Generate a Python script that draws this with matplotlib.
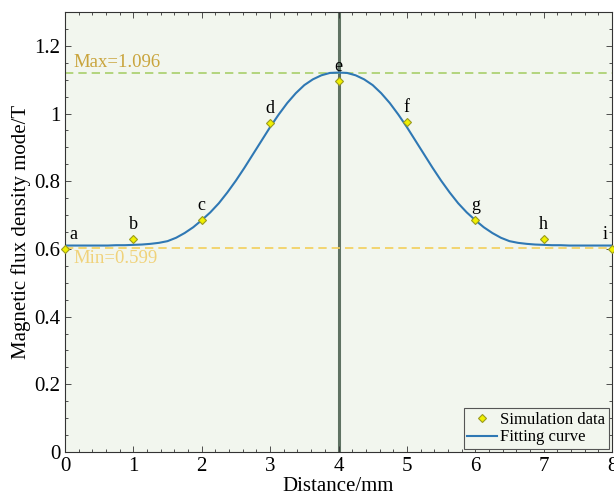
import matplotlib.pyplot as plt
from matplotlib.ticker import MultipleLocator

plt.rcParams['font.family'] = ['Liberation Serif', 'DejaVu Serif']

# simulation points
dist = [0, 1, 2, 3, 4, 5, 6, 7, 8]
flux = [0.599, 0.630, 0.686, 0.971, 1.096, 0.974, 0.686, 0.628, 0.599]
point_labels = ['a', 'b', 'c', 'd', 'e', 'f', 'g', 'h', 'i']

# fitting curve (step 0.125 mm)
fit_x = [i * 0.125 for i in range(65)]
fit_y = [0.610, 0.610, 0.610, 0.610, 0.610, 0.610, 0.611, 0.611,
         0.612, 0.613, 0.615, 0.618, 0.623, 0.633, 0.647, 0.664,
         0.685, 0.708, 0.735, 0.767, 0.802, 0.840, 0.880, 0.920,
         0.960, 0.997, 1.031, 1.060, 1.084, 1.101, 1.113, 1.120,
         1.121,
         1.120, 1.113, 1.101, 1.084, 1.060, 1.031, 0.997, 0.960,
         0.920, 0.880, 0.840, 0.802, 0.767, 0.735, 0.708, 0.685,
         0.664, 0.647, 0.633, 0.623, 0.618, 0.615, 0.613, 0.612,
         0.611, 0.611, 0.610, 0.610, 0.610, 0.610, 0.610, 0.610]

max_line = 1.121
min_line = 0.602

fig = plt.figure(figsize=(6.14, 5.04), dpi=100)
ax = fig.add_axes([65 / 614, 52 / 504, 547 / 614, 440 / 504])
ax.set_facecolor('#f2f6ee')

ax.axvline(4, color='#5f7262', lw=2.2, zorder=1)
ax.axhline(max_line, color='#a8cf6a', ls='--', lw=1.2, dashes=(5, 3), zorder=1)
ax.axhline(min_line, color='#f2cf5a', ls='--', lw=1.2, dashes=(5, 3), zorder=1)

ax.plot(dist, flux, ls='none', marker='D', ms=4.5, mfc='#f0f000', mec='#9a9a20',
        mew=0.8, label='Simulation data', zorder=3, clip_on=False)
ax.plot(fit_x, fit_y, color='#2f78b4', lw=1.5, label='Fitting curve', zorder=2)

for x, y, t in zip(dist, flux, point_labels):
    if t == 'a':
        ax.text(x + 0.06, y + 0.018, t, fontsize=13, ha='left', va='bottom')
    elif t == 'i':
        ax.text(x - 0.06, y + 0.018, t, fontsize=13, ha='right', va='bottom')
    else:
        ax.text(x, y + 0.018, t, fontsize=13, ha='center', va='bottom')

ax.text(0.13, max_line + 0.005, 'Max=1.096', color='#c9a43c', fontsize=13.5,
        va='bottom')
ax.text(0.13, min_line - 0.006, 'Min=0.599', color='#f0d27a', fontsize=13.5,
        va='top')

ax.set_xlim(0, 8)
ax.set_ylim(0, 1.3)
ax.xaxis.set_major_locator(MultipleLocator(1))
ax.xaxis.set_minor_locator(MultipleLocator(0.2))
ax.yaxis.set_major_locator(MultipleLocator(0.2))
ax.yaxis.set_minor_locator(MultipleLocator(0.05))
ax.set_yticks([0, 0.2, 0.4, 0.6, 0.8, 1.0, 1.2])
ax.set_yticklabels(['0', '0.2', '0.4', '0.6', '0.8', '1', '1.2'])
ax.tick_params(which='both', direction='in', top=True, right=True,
               labelsize=15, colors='#333333', labelcolor='black')
ax.tick_params(which='major', length=4, width=0.6)
ax.tick_params(which='minor', length=2, width=0.6)
for s in ax.spines.values():
    s.set_color('#333333')
    s.set_linewidth(0.8)

ax.set_xlabel('Distance/mm', fontsize=15, labelpad=1)
ax.set_ylabel('Magnetic flux density mode/T', fontsize=15, labelpad=2)

leg = ax.legend(loc='lower right', fontsize=12, fancybox=False, framealpha=1,
                edgecolor='#555555', handlelength=1.8, handletextpad=0.2,
                borderpad=0.2, borderaxespad=0.2, labelspacing=0.1)
leg.get_frame().set_facecolor('#f2f6ee')
leg.get_frame().set_linewidth(0.8)

fig.savefig('out.png', dpi=100)
